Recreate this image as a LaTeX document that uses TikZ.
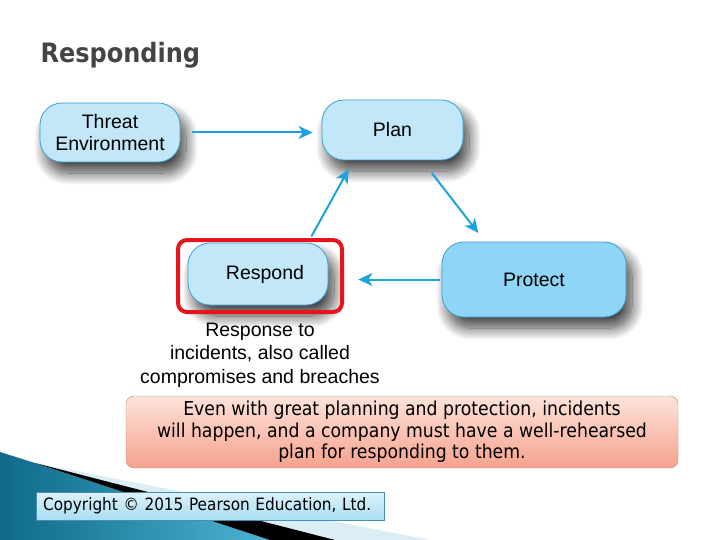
\documentclass[tikz,border=0pt]{standalone}
\usepackage{fontspec}
\setmainfont{Liberation Sans}
\newfontfamily\slidefont{DejaVu Sans Condensed}
\usetikzlibrary{arrows.meta}
\usetikzlibrary{positioning, shadows.blur}
\definecolor{stageedge}{HTML}{3A9FD3}
\definecolor{stagefill}{HTML}{C2E7F8}
\definecolor{stagebright}{HTML}{8FD6F6}
\definecolor{flowblue}{HTML}{1CA3DF}
\definecolor{focusred}{HTML}{E8141C}
\definecolor{notetop}{HTML}{FDE3DA}
\definecolor{notebottom}{HTML}{F6A28E}
\definecolor{noteedge}{HTML}{C58A72}
\definecolor{credittop}{HTML}{DDF2FB}
\definecolor{creditbottom}{HTML}{A9DDF3}
\definecolor{creditedge}{HTML}{4A8CB2}
\definecolor{swooshdark}{HTML}{0E6A88}
\definecolor{swooshlight}{HTML}{4DB3D3}
\definecolor{swooshpale}{HTML}{DCEEF5}
\definecolor{titlegray}{HTML}{444444}
\tikzset{
stage/.style = { rectangle, draw = stageedge, fill = stagefill, line width = 0.8pt, rounded corners = 22pt, align = center, inner sep = 0pt, font = \fontsize{19.5}{22}\selectfont, blur shadow = {shadow xshift = 6pt, shadow yshift = -11pt, shadow blur radius = 12pt, shadow blur steps = 16, shadow opacity = 75} },
stage bright/.style = { stage, fill = stagebright },
focus box/.style = { rectangle, draw = focusred, line width = 4pt, rounded corners = 9pt, minimum width = 164pt, minimum height = 72pt },
flow arrow/.style = { draw = flowblue, line width = 2pt, -{Stealth[length = 14pt, width = 13pt, inset = 4pt]} },
caption text/.style = { align = center, font = \fontsize{19.5}{23.5}\selectfont },
note box/.style = { rectangle, draw = noteedge, top color = notetop, bottom color = notebottom, rounded corners = 8pt, align = center, minimum width = 552pt, minimum height = 72pt, font = \slidefont\fontsize{19.2}{21.5}\selectfont },
credit box/.style = { rectangle, draw = creditedge, top color = credittop, bottom color = creditbottom, text width = 334pt, inner xsep = 7pt, minimum height = 28pt, align = left, font = \slidefont\fontsize{17}{18}\selectfont },
title text/.style = { text = titlegray, font = \slidefont\bfseries\fontsize{26.7}{30}\selectfont }
}
\begin{document}
\begin{tikzpicture}[x = 1pt, y = -1pt]
  \useasboundingbox (0, 0) rectangle (720, 540);
  % corner swoosh
  \fill[swooshpale] (35, 463) -- (430, 540) -- (300, 540) -- cycle;
  \shade[left color = swooshdark, right color = swooshlight] (0, 452) -- (35, 463) -- (270, 540) -- (0, 540) -- cycle;
  \fill[black] (35, 463) -- (335, 540) -- (270, 540) -- cycle;
  \node[title text, anchor = west] (title) at (37, 55) {Responding};
  % cycle
  \node[stage, minimum width = 140pt, minimum height = 59pt] (threat) at (110, 132.5) {Threat\\Environment};
  \node[stage, minimum width = 141pt, minimum height = 60pt] (plan) at (392.5, 130) {Plan};
  \node[stage, minimum width = 140pt, minimum height = 62pt] (respond) at (258, 274) {\hspace*{14pt}Respond};
  \node[stage bright, minimum width = 184pt, minimum height = 75pt] (protect) at (534, 279.5) {Protect};
  \node[focus box] (focus) at (260, 276) {};
  \draw[flow arrow, shorten < = 12pt, shorten > = 9pt] (threat.east) -- (threat.east -| plan.west);
  \draw[flow arrow, shorten < = 7pt, shorten > = 10pt] ([xshift = 50pt]respond.north) -- ([xshift = -39pt]plan.south);
  \draw[flow arrow, shorten < = 16pt, shorten > = 11pt] ([xshift = 29.5pt]plan.south) -- ([xshift = -49pt]protect.north);
  \draw[flow arrow, shorten < = 2pt, shorten > = 30pt] (protect.west) -- (protect.west -| respond.east);
  \node[caption text] (response) at (260, 355) {Response to\\incidents, also called\\compromises and breaches};
  % notes
  \node[note box] (note) at (402, 432) {Even with great planning and protection, incidents\\will happen, and a company must have a well-rehearsed\\plan for responding to them.};
  \node[credit box, anchor = west] (credit) at (36, 506) {Copyright © 2015 Pearson Education, Ltd.};
\end{tikzpicture}
\end{document}
